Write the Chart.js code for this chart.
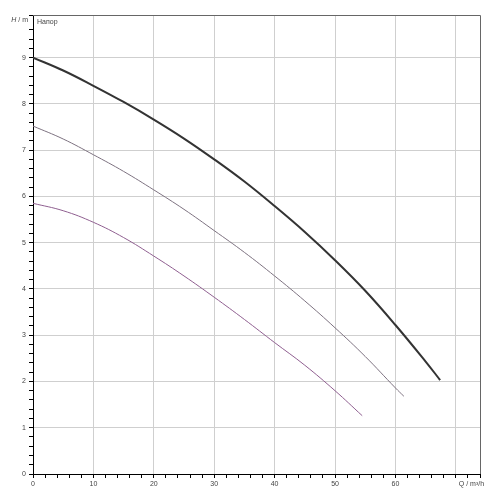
<!DOCTYPE html>
<html>
<head>
<meta charset="utf-8">
<script src="https://cdn.jsdelivr.net/npm/chart.js@4"></script>
<style>
  html, body { margin: 0; padding: 0; background: #fff; }
  #wrap { width: 500px; height: 500px; }
</style>
</head>
<body>
<div id="wrap"><canvas id="grafico" width="500" height="500"></canvas></div>
<script>
// curva superior
const q1 = [0, 5, 10, 15, 20, 25, 30, 35, 40, 45, 50, 55, 60, 65, 67.4];
const h1 = [9.0, 8.72, 8.39, 8.04, 7.66, 7.25, 6.80, 6.32, 5.79, 5.23, 4.62, 3.96, 3.22, 2.43, 2.03];
// curva media
const q2 = [0, 5, 10, 15, 20, 25, 30, 35, 40, 45, 50, 55, 60, 61.4];
const h2 = [7.52, 7.24, 6.90, 6.54, 6.14, 5.72, 5.26, 4.79, 4.28, 3.74, 3.16, 2.54, 1.86, 1.68];
// curva inferior
const q3 = [0, 5, 10, 15, 20, 25, 30, 35, 40, 45, 50, 54.5];
const h3 = [5.85, 5.69, 5.44, 5.11, 4.71, 4.28, 3.82, 3.34, 2.84, 2.35, 1.80, 1.26];

const xLabels = [0, 10, 20, 30, 40, 50, 60];
const yLabels = [0, 1, 2, 3, 4, 5, 6, 7, 8, 9];

function pts(qs, hs) {
  return qs.map((q, i) => ({ x: q, y: hs[i] }));
}
function isMajor(v, step) {
  return Math.abs(v / step - Math.round(v / step)) < 1e-6;
}

const FUENTE = '"Liberation Sans", Arial, sans-serif';

const textos = {
  id: 'textos',
  afterDraw(chart) {
    const ctx = chart.ctx;
    const a = chart.chartArea;
    const xs = chart.scales.x;
    ctx.save();
    ctx.strokeStyle = '#666';
    ctx.lineWidth = 1;
    ctx.beginPath();
    ctx.moveTo(a.left, a.top + 0.5);
    ctx.lineTo(a.right + 0.5, a.top + 0.5);
    ctx.lineTo(a.right + 0.5, a.bottom);
    ctx.stroke();
    ctx.fillStyle = '#444';
    ctx.font = '7px ' + FUENTE;
    ctx.textBaseline = 'middle';
    ctx.textAlign = 'left';
    ctx.fillText('Напор', a.left + 4, a.top + 7);
    ctx.fillText('Q / m³/h', xs.getPixelForValue(70) + 3, a.bottom + 10);
    ctx.textAlign = 'right';
    const w = ctx.measureText('/ m').width;
    ctx.fillText('/ m', a.left - 5, a.top + 5);
    ctx.font = 'italic 7px ' + FUENTE;
    ctx.fillText('H', a.left - 5 - w - 2, a.top + 5);
    ctx.restore();
  }
};

new Chart(document.getElementById('grafico').getContext('2d'), {
  type: 'line',
  data: {
    datasets: [
      { data: pts(q1, h1), borderColor: '#333333', borderWidth: 2, pointRadius: 0, fill: false, tension: 0.4 },
      { data: pts(q2, h2), borderColor: '#7d7280', borderWidth: 1, pointRadius: 0, fill: false, tension: 0.4 },
      { data: pts(q3, h3), borderColor: '#8f5f90', borderWidth: 1, pointRadius: 0, fill: false, tension: 0.4 }
    ]
  },
  options: {
    responsive: false,
    animation: false,
    layout: { padding: { top: 15, right: 20, left: 0, bottom: 0 } },
    plugins: { legend: { display: false }, tooltip: { enabled: false } },
    scales: {
      x: {
        type: 'linear',
        min: 0,
        max: 74,
        afterFit: s => { s.height = 26; },
        border: { color: '#000', width: 1 },
        grid: {
          color: c => (isMajor(c.tick.value, 10) ? '#cfcfcf' : 'rgba(0,0,0,0)'),
          tickColor: '#000',
          tickLength: 4
        },
        ticks: {
          stepSize: 2,
          autoSkip: false,
          maxRotation: 0,
          padding: 2,
          color: '#444',
          font: { family: FUENTE, size: 7 },
          callback: v => (xLabels.includes(v) ? String(v) : '')
        }
      },
      y: {
        type: 'linear',
        min: 0,
        max: 9.92,
        afterFit: s => { s.width = 33; },
        border: { color: '#000', width: 1 },
        grid: {
          color: c => (isMajor(c.tick.value, 1) ? '#cfcfcf' : 'rgba(0,0,0,0)'),
          tickColor: '#000',
          tickLength: 4
        },
        ticks: {
          stepSize: 0.2,
          autoSkip: false,
          padding: 3,
          color: '#444',
          font: { family: FUENTE, size: 7 },
          callback: v => {
            const r = Math.round(v);
            return (Math.abs(v - r) < 1e-6 && yLabels.includes(r)) ? String(r) : '';
          }
        }
      }
    }
  },
  plugins: [textos]
});
</script>
</body>
</html>
